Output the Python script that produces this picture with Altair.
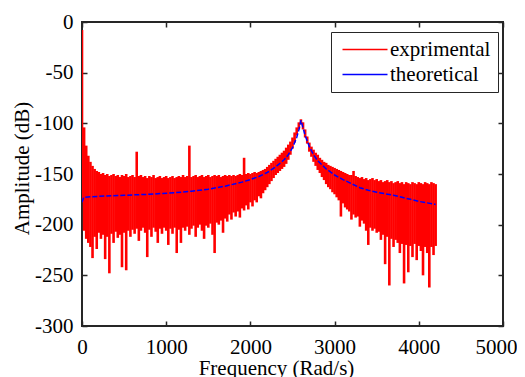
import altair as alt
import pandas as pd

# ---------------- data ----------------
exp_freq = list(range(0, 4225, 25))  # sampling grid (rad/s)

exp_upper = [
    -8, -104, -122, -132, -138, -142, -145, -147, -148, -150,
    -149, -151, -150, -152, -151, -150, -152, -151, -153, -151,
    -152, -150, -153, -152, -151, -153, -128, -152, -151, -153,
    -152, -154, -152, -153, -151, -154, -153, -152, -154, -153,
    -152, -154, -153, -152, -154, -153, -152, -153, -151, -153,
    -152, -122, -153, -152, -151, -153, -152, -151, -153, -152,
    -151, -153, -152, -151, -152, -151, -153, -152, -151, -152,
    -151, -152, -151, -152, -151, -150, -151, -134, -150, -149,
    -150, -149, -148, -149, -148, -147, -146, -145, -143, -141,
    -139, -137, -135, -133, -131, -129, -127, -124, -121, -118,
    -114, -109, -104, -99, -96, -99, -106, -113, -119, -123,
    -126, -129, -131, -134, -136, -138, -139, -141, -142, -143,
    -144, -145, -146, -147, -148, -149, -150, -151, -151, -147,
    -152, -153, -154, -153, -155, -154, -156, -155, -154, -156,
    -155, -157, -156, -158, -157, -156, -158, -157, -159, -158,
    -157, -159, -158, -160, -158, -159, -160, -158, -159, -160,
    -158, -159, -160, -158, -159, -160, -158, -159, -160,
]

exp_lower = [
    -178, -206, -214, -218, -222, -233, -212, -224, -208, -214,
    -210, -234, -212, -248, -209, -218, -207, -213, -210, -242,
    -208, -245, -206, -212, -205, -209, -204, -216, -206, -203,
    -208, -232, -205, -212, -203, -207, -218, -204, -209, -203,
    -206, -220, -204, -209, -203, -228, -205, -218, -203, -206,
    -202, -210, -204, -201, -212, -203, -200, -206, -214, -201,
    -203, -199, -210, -228, -198, -200, -196, -208, -194, -197,
    -190, -195, -188, -192, -187, -193, -184, -186, -181, -185,
    -178, -182, -176, -178, -172, -174, -169, -166, -163, -160,
    -157, -154, -151, -149, -147, -145, -143, -140, -136, -131,
    -125, -119, -112, -106, -101, -106, -114, -120, -128, -133,
    -138, -142, -146, -149, -153, -156, -160, -163, -165, -168,
    -170, -173, -176, -192, -179, -183, -185, -187, -195, -190,
    -193, -192, -202, -196, -199, -206, -220, -203, -206, -204,
    -208, -207, -215, -210, -239, -212, -260, -214, -222, -215,
    -218, -228, -219, -258, -220, -247, -221, -232, -219, -235,
    -221, -226, -250, -222, -228, -262, -222, -230, -221,
]

theory_freq = [0, 20, 200, 500, 800, 1100, 1300, 1500, 1700, 1900,
               2000, 2100, 2200, 2300, 2400, 2450, 2500, 2550, 2580, 2600,
               2620, 2650, 2700, 2750, 2800, 2900, 3000, 3100, 3200, 3300,
               3400, 3500, 3600, 3700, 3800, 3900, 4000, 4100, 4200]
theory_db = [-178, -173, -172, -171, -170, -168.5, -167, -165, -162, -158,
             -155.5, -152.5, -148.5, -143, -136, -131, -124, -114, -105, -97,
             -103, -112, -123, -131, -137, -145, -151, -155.5, -159.5, -163.5,
             -166, -168, -169.5, -171, -173, -175, -177, -178.5, -180]

series_names = ["exprimental", "theoretical"]
series_colors = ["#ff0000", "#0000ff"]
x_ticks = [0, 1000, 2000, 3000, 4000, 5000]
y_ticks = [-300, -250, -200, -150, -100, -50, 0]

FONT = "Liberation Serif"
INK = "#262626"

exp_df = pd.DataFrame({"f": exp_freq, "upper": exp_upper, "lower": exp_lower,
                       "series": series_names[0]})
th_df = pd.DataFrame({"f": theory_freq, "db": theory_db, "series": series_names[1]})

xscale = alt.Scale(domain=[0, 5000], nice=False, zero=False)
yscale = alt.Scale(domain=[-300, 0], nice=False, zero=False)

color = alt.Color(
    "series:N",
    scale=alt.Scale(domain=series_names, range=series_colors),
    legend=alt.Legend(title=None),
)

lab = "'' + datum.value"

exp_layer = alt.Chart(exp_df).mark_rule(strokeWidth=2.6, clip=True).encode(
    x=alt.X("f:Q", scale=xscale,
            axis=alt.Axis(orient="bottom", values=x_ticks, offset=-5, tickSize=5,
                          domain=False, grid=False, labelExpr=lab, labelPadding=10,
                          labelFlush=False,
                          labelOffset={"condition": {"test": "datum.value === 5000",
                                                     "value": -7},
                                       "value": 0},
                          title="Frequency (Rad/s)", titleX=194, titleY=53,
                          titleBaseline="alphabetic")),
    y=alt.Y("upper:Q", scale=yscale,
            axis=alt.Axis(orient="left", values=y_ticks, offset=-5, tickSize=5,
                          domain=False, grid=False, labelExpr=lab, labelPadding=9,
                          labelFlush=False,
                          title="Amplitude (dB)", titleX=-59, titleY=146,
                          titleBaseline="alphabetic")),
    y2="lower:Q",
    color=color,
)

th_layer = alt.Chart(th_df).mark_line(strokeWidth=1.5, strokeDash=[5, 2], clip=True).encode(
    x=alt.X("f:Q", scale=xscale,
            axis=alt.Axis(orient="top", values=x_ticks, offset=-5, tickSize=5,
                          domain=False, grid=False, labels=False, title=None)),
    y=alt.Y("db:Q", scale=yscale,
            axis=alt.Axis(orient="right", values=y_ticks, offset=-5, tickSize=5,
                          domain=False, grid=False, labels=False, title=None)),
    color=color,
)

chart = (
    alt.layer(exp_layer, th_layer)
    .resolve_axis(x="independent", y="independent")
    .properties(
        width=421, height=304,
        padding={"left": 74, "top": 14, "right": 14, "bottom": 56},
        autosize=alt.AutoSizeParams(type="none"),
    )
    .configure_view(stroke=INK, strokeWidth=2)
    .configure_axis(
        labelFont=FONT, titleFont=FONT, labelFontSize=21, titleFontSize=21,
        labelColor="black", titleColor="black", titleFontWeight="normal",
        tickColor=INK, tickWidth=1.5,
    )
    .configure_legend(
        orient="none", legendX=249, legendY=10,
        labelFont=FONT, labelFontSize=21, labelColor="black",
        symbolType="M-1,0H6.5", symbolSize=144, symbolStrokeWidth=1.5,
        symbolDash=[1, 0],
        strokeColor=INK, fillColor="white", padding=7, rowPadding=3,
        labelOffset=31, cornerRadius=0,
    )
)

chart.save("out.html", embed_options={"renderer": "svg", "actions": False})
